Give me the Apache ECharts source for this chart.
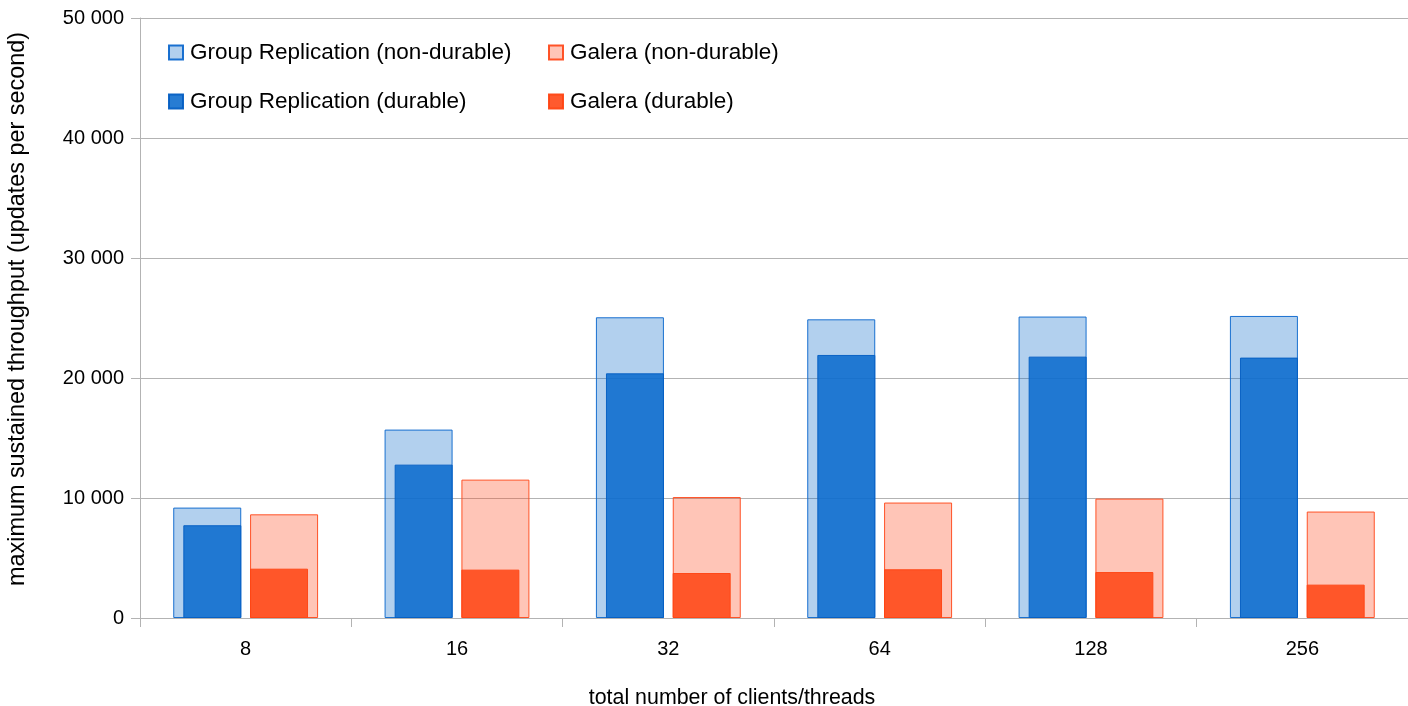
<!DOCTYPE html>
<html>
<head>
<meta charset="utf-8">
<script src="https://cdn.jsdelivr.net/npm/echarts@6/dist/echarts.min.js"></script>
<style>
html,body{margin:0;padding:0;background:#fff;}
#chart{width:1408px;height:706px;}
</style>
</head>
<body>
<div id="chart"></div>
<script>
const categories = ['8', '16', '32', '64', '128', '256'];
const grNonDurable = [9200, 15700, 25060, 24890, 25120, 25170];
const galeraNonDurable = [8640, 11530, 10080, 9620, 9950, 8870];
const grDurable = [7730, 12780, 20390, 21920, 21780, 21700];
const galeraDurable = [4110, 4030, 3750, 4060, 3830, 2780];
const yTicks = { min: 0, max: 50000, interval: 10000 };
const names = {
  grNd: 'Group Replication (non-durable)',
  galNd: 'Galera (non-durable)',
  grD: 'Group Replication (durable)',
  galD: 'Galera (durable)'
};

const FONT = 'Liberation Sans';
const fmt = v => String(v).replace(/\B(?=(\d{3})+(?!\d))/g, ' ');

const chart = echarts.init(document.getElementById('chart'), null, {renderer: 'canvas'});
function legendAt(name, left, top) {
  return {
    data: [{name: name, icon: 'rect'}], left: left, top: top, orient: 'horizontal',
    itemWidth: 14, itemHeight: 14, itemGap: 0, padding: 0,
    textStyle: {fontFamily: FONT, fontSize: 22.5, color: '#000', padding: [0, 0, 0, 2]},
    selectedMode: false
  };
}
chart.setOption({
  animation: false,
  backgroundColor: '#fff',
  textStyle: {fontFamily: FONT},
  grid: {left: 140, right: 0, top: 18, bottom: 88, containLabel: false, outerBoundsMode: 'none'},
  legend: [
    legendAt(names.grNd, 168, 41),
    legendAt(names.galNd, 548, 41),
    legendAt(names.grD, 168, 90),
    legendAt(names.galD, 548, 90)
  ],
  xAxis: [{
    type: 'category', data: categories,
    name: 'total number of clients/threads', nameLocation: 'middle', nameGap: 70,
    nameTextStyle: {fontFamily: FONT, fontSize: 21.4, color: '#000', padding: [0, 84, 0, 0]},
    axisLine: {show: true, lineStyle: {color: '#b3b3b3', width: 1}},
    axisTick: {show: true, length: 9, lineStyle: {color: '#b3b3b3'}},
    axisLabel: {fontFamily: FONT, fontSize: 20, color: '#000', margin: 21},
    splitLine: {show: false}
  }, {
    type: 'category', data: categories, show: false, position: 'bottom'
  }],
  yAxis: {
    type: 'value', min: yTicks.min, max: yTicks.max, interval: yTicks.interval,
    name: 'maximum sustained throughput (updates per second)', nameLocation: 'middle', nameGap: 111,
    nameTextStyle: {fontFamily: FONT, fontSize: 23.4, color: '#000', padding: [0, 0, 0, 18]},
    axisLine: {show: true, lineStyle: {color: '#b3b3b3', width: 1}},
    axisTick: {show: true, length: 9, lineStyle: {color: '#b3b3b3'}},
    axisLabel: {fontFamily: FONT, fontSize: 20, color: '#000', margin: 16, formatter: fmt},
    splitLine: {show: true, lineStyle: {color: '#b3b3b3', width: 1}}
  },
  series: [{
    name: names.grNd, type: 'bar', xAxisIndex: 0, data: grNonDurable,
    barWidth: 68, barGap: '13%', z: 2,
    itemStyle: {color: 'rgba(0,100,200,0.3)', borderColor: 'rgba(15,105,205,0.95)', borderWidth: 1}
  }, {
    name: names.galNd, type: 'bar', xAxisIndex: 0, data: galeraNonDurable,
    barWidth: 68, barGap: '13%', z: 2,
    itemStyle: {color: 'rgba(255,75,30,0.32)', borderColor: 'rgba(255,75,30,0.95)', borderWidth: 1}
  }, {
    name: names.grD, type: 'bar', xAxisIndex: 1, data: grDurable,
    barWidth: 58, barGap: '15%', z: 3,
    itemStyle: {color: 'rgba(16,110,206,0.9)', borderColor: 'rgba(5,95,195,0.95)', borderWidth: 1}
  }, {
    name: names.galD, type: 'bar', xAxisIndex: 1, data: galeraDurable,
    barWidth: 58, barGap: '15%', z: 3,
    itemStyle: {color: 'rgba(255,76,28,0.92)', borderColor: 'rgba(255,70,20,0.95)', borderWidth: 1}
  }]
});
</script>
</body>
</html>
